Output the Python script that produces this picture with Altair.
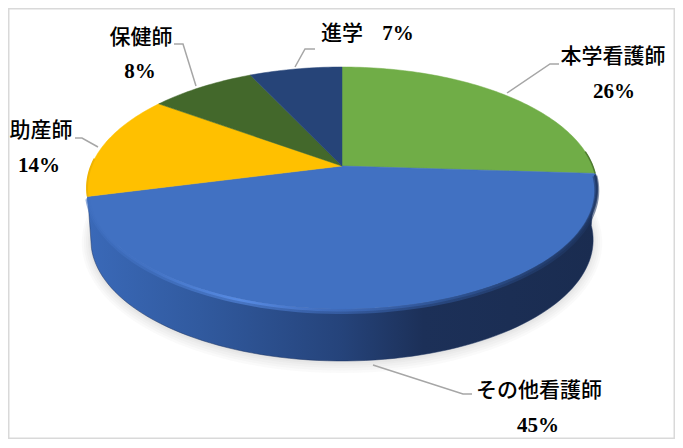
import numpy as np
import pandas as pd
import altair as alt

categories = ["本学看護師", "その他看護師", "助産師", "保健師", "進学"]
shares = [26, 45, 14, 8, 7]
slice_colors = ["#70AD47", "#4171C2", "#FFC000", "#43682B", "#264478"]

# label layout, in picture pixels (kept apart from the values)
name_xy = [(613, 57), (539, 391), (41, 131), (141, 38), (342, 34)]
pct_xy = [(614, 92), (538, 426), (39, 166), (140, 72), (398, 34)]
leaders = [
    [(507, 93), (550, 64), (559, 64)],
    [(373, 365), (463, 394), (472, 394)],
    [(98, 147), (82, 138), (75, 138)],
    [(196, 86), (183, 44), (174, 44)],
    [(295, 67), (305, 49), (315, 49)],
]

W, H = 667, 431
LEFT, TOP = 8, 8
CX, CY = 342, 166
A, B, P = 250.7, 117.0, 0.1818
DEPTH = 52
X = alt.X("x:Q", axis=None, scale=alt.Scale(domain=[LEFT, LEFT + W], nice=False, zero=False))
Y = alt.Y("y:Q", axis=None, scale=alt.Scale(domain=[TOP, TOP + H], reverse=True, nice=False, zero=False))
ORDER = alt.Order("i:Q", sort="ascending")


def rim(share, depth=0.0, grow=0.0):
    t = np.radians(np.asarray(share, dtype=float) * 3.6)
    u, v = np.sin(t), np.cos(t)
    k = 1 + P * v
    s = 1 - 0.015 * (depth / DEPTH)
    return CX + (A * s + grow) * u / k, CY + depth - (B + grow) * v / k


def frame(xs, ys):
    return pd.DataFrame({"x": xs, "y": ys, "i": np.arange(len(xs))})


def poly(df, **mark):
    return alt.Chart(df).mark_line(interpolate="linear-closed", **mark).encode(x=X, y=Y, order=ORDER)


def path(df, **mark):
    return alt.Chart(df).mark_line(**mark).encode(x=X, y=Y, order=ORDER)


def hgrad(stops):
    return alt.LinearGradient(
        gradient="linear", x1=0, x2=1, y1=0, y2=0,
        stops=[alt.GradientStop(offset=o, color=c) for o, c in stops],
    )


layers = []
cum = np.cumsum([0] + shares)

# soft shadow below the body
for g in [9, 7, 5, 3, 1.5]:
    sx, sy = rim(np.linspace(0, 100, 121), DEPTH + 1, g)
    layers.append(poly(frame(sx, sy), fill="#909090", fillOpacity=0.045, stroke="#808080", strokeOpacity=0, strokeWidth=0))

# side wall of the disk
front = np.linspace(cum[1], cum[2], 90)
rx, ry = rim(front)
bx, by = rim(front[::-1], DEPTH)
wall_stops = [(0, "#3A69B8"), (0.22, "#315A9F"), (0.5, "#25437A"), (0.66, "#1C3058"), (1, "#1A2C50")]
layers.append(poly(frame(np.r_[rx, bx], np.r_[ry, by]), fill=hgrad(wall_stops), stroke="#1E3560", strokeWidth=0.5))

# top faces
for share0, share1, color in zip(cum[:-1], cum[1:], slice_colors):
    arc = np.linspace(share0, share1, max(int(share1 - share0) * 3, 8))
    ax, ay = rim(arc)
    layers.append(poly(frame(np.r_[CX, ax], np.r_[CY, ay]), fill=color, stroke=color, strokeWidth=0.5))

# bevel on the rim of the front slice
bevel = np.linspace(cum[1], cum[2], 90)[::-1]
ex, ey = rim(bevel, 2.5)
bevel_soft = [(0, "#3F6FC0"), (0.12, "#4474C6"), (0.3, "#5B90EA"), (0.46, "#4472C4"), (0.72, "#2F5597"), (1, "#1E3560")]
layers.append(path(frame(ex, ey), stroke=hgrad(bevel_soft), strokeWidth=5, opacity=0.55))
ex2, ey2 = rim(bevel, 1.2)
layers.append(path(frame(ex2, ey2), stroke=hgrad(bevel_soft), strokeWidth=2.5, opacity=0.8))

# lit edge of the yellow slice, dark edge of the green slice
yx, yy = rim(np.linspace(cum[2], cum[2] + 5, 12))
layers.append(path(frame(yx, yy), stroke="#F0B400", strokeWidth=2))
gx, gy = rim(np.linspace(cum[1] - 3, cum[1], 8))
layers.append(path(frame(gx, gy), stroke="#4E7A30", strokeWidth=1.5))

# leader lines
for pts in leaders:
    lx, ly = zip(*pts)
    layers.append(path(frame(list(lx), list(ly)), stroke="#A6A6A6", strokeWidth=1.5))

# labels
name_df = pd.DataFrame({"x": [p[0] for p in name_xy], "y": [p[1] for p in name_xy], "t": categories})
pct_df = pd.DataFrame({"x": [p[0] for p in pct_xy], "y": [p[1] for p in pct_xy], "t": [f"{s}%" for s in shares]})
layers.append(alt.Chart(name_df).mark_text(font="Noto Sans CJK JP", fontSize=21, fontWeight=500, color="#000000", baseline="middle", align="center").encode(x=X, y=Y, text="t:N"))
layers.append(alt.Chart(pct_df).mark_text(font="Liberation Serif", fontSize=21, fontWeight="bold", color="#000000", baseline="middle", align="center").encode(x=X, y=Y, text="t:N"))

chart = (
    alt.layer(*layers)
    .properties(width=W, height=H, padding=0, background="#FFFFFF", autosize=alt.AutoSizeParams(type="none"))
    .configure_view(stroke="#D9D9D9", strokeWidth=3)
)
chart.save("out.html", embed_options={"renderer": "svg", "actions": False})
